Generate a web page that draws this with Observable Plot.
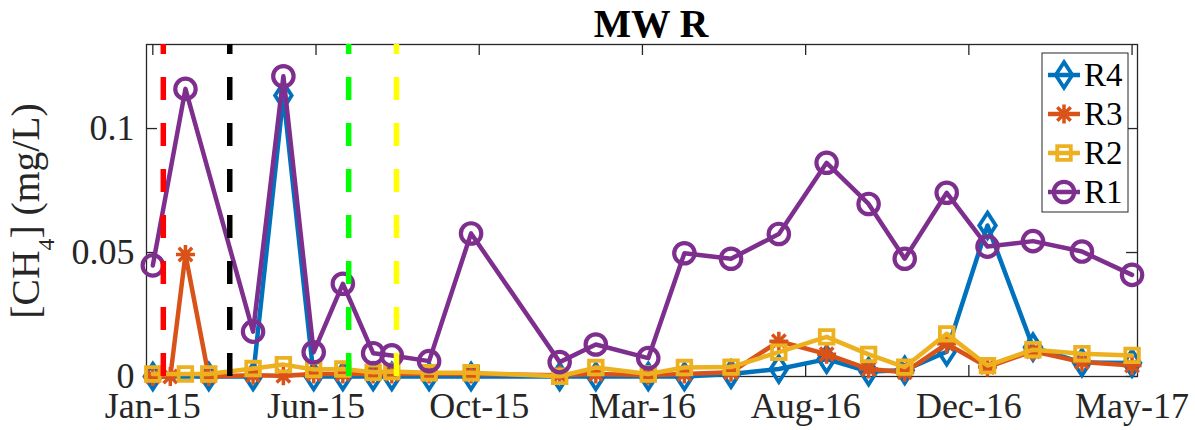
<!DOCTYPE html>
<html>
<head>
<meta charset="utf-8">
<script src="https://cdn.jsdelivr.net/npm/d3@7"></script>
<script src="https://cdn.jsdelivr.net/npm/@observablehq/plot@0.6"></script>
<style>
  html, body { margin: 0; padding: 0; background: #fff; }
  #chart { width: 1195px; height: 430px; position: relative; font-family: "Liberation Serif", serif; }
  #chart svg text, #chart svg tspan { font-family: "Liberation Serif", serif !important; }
</style>
</head>
<body>
<div id="chart"></div>
<script>
// ---- data ----
const dates = ["2015-01-21","2015-02-05","2015-02-18","2015-03-10","2015-04-17","2015-05-13","2015-06-08","2015-07-03","2015-07-29","2015-08-14","2015-09-15","2015-10-21","2016-01-05","2016-02-05","2016-03-21","2016-04-21","2016-05-31","2016-07-11","2016-08-21","2016-09-26","2016-10-27","2016-12-02","2017-01-06","2017-02-14","2017-03-28","2017-05-10"];
const R1 = [0.0448, null, 0.116, null, 0.0181, 0.1211, 0.0098, 0.0374, 0.0094, 0.0085, 0.0062, 0.0577, 0.0058, 0.0129, 0.0074, 0.0497, 0.0475, 0.0575, 0.0862, 0.0696, 0.0475, 0.0741, 0.0524, 0.0546, 0.0504, 0.0410];
const R2 = [0.001, null, 0.001, 0.001, 0.0032, 0.0048, 0.0028, 0.003, 0.0017, 0.002, 0.0015, 0.0015, 0.0001, 0.0036, 0.001, 0.0036, 0.0038, 0.0098, 0.016, 0.0089, 0.0038, 0.0172, 0.0044, 0.0108, 0.0092, 0.0085];
const R3 = [0, 0, 0.0492, 0, 0.0005, 0.0003, 0.001, 0.001, 0.001, 0.001, 0.001, 0.001, 0.0005, 0.001, 0.0005, 0.001, 0.0017, 0.0142, 0.009, 0.003, 0.0017, 0.0132, 0.0038, 0.0102, 0.0058, 0.0044];
const R4 = [0, null, null, 0, 0, 0.1133, 0, 0, 0, 0, 0, 0, 0, 0, 0, 0, 0.001, 0.003, 0.007, 0.002, 0.0025, 0.010, 0.0609, 0.0118, 0.0056, 0.0054];
const seriesNames = ["R4", "R3", "R2", "R1"];
const seriesColors = ["#0072BD", "#D95319", "#EDB120", "#7E2F8E"];
const eventDates = ["2015-01-30", "2015-03-28", "2015-07-08", "2015-08-18"];
const eventColors = ["#FF0000", "#000000", "#00FF00", "#FFFF00"];
const xTickDates = ["2015-01-21","2015-06-10","2015-10-28","2016-03-16","2016-08-03","2016-12-21","2017-05-10"];
const yTicks = [0, 0.05, 0.1];
const xDomainDates = ["2015-01-15T14:00Z", "2017-05-14T16:00Z"];
const yDomain = [0, 0.1339];

const FONT = "Liberation Serif";

// ---- symbols ----
const circleSym = d3.symbolCircle;
const diamondSym = {draw(ctx, size) { const r = Math.sqrt(size / Math.PI), h = r * 1.55;
  ctx.moveTo(0, -h); ctx.lineTo(r, 0); ctx.lineTo(0, h); ctx.lineTo(-r, 0); ctx.closePath(); }};
const squareSym = {draw(ctx, size) { const r = Math.sqrt(size / Math.PI);
  ctx.moveTo(-r, -r); ctx.lineTo(r, -r); ctx.lineTo(r, r); ctx.lineTo(-r, r); ctx.closePath(); }};
const asteriskSym = {draw(ctx, size) { const r = Math.sqrt(size / Math.PI), d = r * 0.7071;
  ctx.moveTo(-r, 0); ctx.lineTo(r, 0); ctx.moveTo(0, -r); ctx.lineTo(0, r);
  ctx.moveTo(-d, -d); ctx.lineTo(d, d); ctx.moveTo(-d, d); ctx.lineTo(d, -d); }};
const symStyle = {
  R4: {symbol: diamondSym, r: 8.3, sw: 3.8},
  R3: {symbol: asteriskSym, r: 9.5, sw: 3.5},
  R2: {symbol: squareSym, r: 6.8, sw: 3.8},
  R1: {symbol: circleSym, r: 10.2, sw: 4.2}
};
const values = {R1, R2, R3, R4};

const parse = s => new Date(s);
function rows(name) {
  return dates.map((d, i) => ({date: parse(d), value: values[name][i]})).filter(d => d.value != null);
}

const W = 1195, H = 430, mL = 146, mT = 44, mR = 58, mB = 54;
const plotW = W - mL - mR, plotH = H - mT - mB;
const tickLen = 11;
const axisColor = "#262626";

const marks = [
  Plot.frame({stroke: axisColor, strokeWidth: 1.3}),
  Plot.ruleX(xTickDates.map(parse), {x: d => d, insetTop: plotH - tickLen, stroke: axisColor, strokeWidth: 1.3}),
  Plot.ruleX(xTickDates.map(parse), {x: d => d, insetBottom: plotH - tickLen, stroke: axisColor, strokeWidth: 1.3}),
  Plot.ruleY(yTicks, {y: d => d, insetRight: plotW - tickLen, stroke: axisColor, strokeWidth: 1.3}),
  Plot.ruleY(yTicks, {y: d => d, insetLeft: plotW - tickLen, stroke: axisColor, strokeWidth: 1.3}),
  Plot.axisX({ticks: xTickDates.map(parse), tickFormat: d3.utcFormat("%b-%y"), tickSize: 0, tickPadding: 16, fontSize: 36, fontFamily: FONT, label: null, fill: axisColor}),
  Plot.axisY({ticks: yTicks, tickFormat: d => String(d), tickSize: 0, tickPadding: 12, fontSize: 36, fontFamily: FONT, label: null, fill: axisColor})
];
seriesNames.forEach((name, k) => {
  const data = rows(name);
  const st = symStyle[name];
  marks.push(Plot.line(data, {x: "date", y: "value", stroke: seriesColors[k], strokeWidth: 4.5, strokeLinejoin: "round"}));
  marks.push(Plot.dot(data, {x: "date", y: "value", symbol: st.symbol, r: st.r, stroke: seriesColors[k], strokeWidth: st.sw, fill: "none"}));
});
eventDates.forEach((d, k) => {
  marks.push(Plot.ruleX([parse(d)], {x: v => v, y1: () => yDomain[0], y2: () => yDomain[1], stroke: eventColors[k], strokeWidth: 5.5, strokeDasharray: "23,23"}));
});

const svgNode = Plot.plot({
  width: W, height: H,
  marginLeft: mL, marginTop: mT, marginRight: mR, marginBottom: mB,
  style: {color: axisColor, background: "#fff", overflow: "visible"},
  x: {type: "utc", domain: xDomainDates.map(parse)},
  y: {domain: yDomain},
  marks
});
svgNode.setAttribute("font-family", FONT);
document.getElementById("chart").appendChild(svgNode);

// ---- title, y label, legend ----
const svg = d3.select(svgNode);
svg.append("text")
  .attr("x", 651).attr("y", 37)
  .attr("text-anchor", "middle")
  .attr("font-size", 39.6).attr("font-weight", "bold").attr("fill", "#000")
  .text("MW R");

const yl = svg.append("text")
  .attr("transform", "translate(39,211) rotate(-90)")
  .attr("text-anchor", "middle")
  .attr("font-size", 39.6).attr("fill", axisColor);
yl.append("tspan").text("[CH");
yl.append("tspan").attr("font-size", 24).attr("dy", 15).text("4");
yl.append("tspan").attr("dy", -15).text("] (mg/L)");

const lg = svg.append("g");
lg.append("rect").attr("x", 1042).attr("y", 53).attr("width", 86).attr("height", 159)
  .attr("fill", "#fff").attr("stroke", axisColor).attr("stroke-width", 1);
["R4", "R3", "R2", "R1"].forEach((name, i) => {
  const k = seriesNames.indexOf(name);
  const cy = 75 + i * 39;
  const st = symStyle[name];
  lg.append("line").attr("x1", 1048).attr("x2", 1080).attr("y1", cy).attr("y2", cy)
    .attr("stroke", seriesColors[k]).attr("stroke-width", 4.5);
  lg.append("path").attr("transform", `translate(1064,${cy})`)
    .attr("d", d3.symbol(st.symbol, st.r * st.r * Math.PI)())
    .attr("fill", "none").attr("stroke", seriesColors[k]).attr("stroke-width", st.sw);
  lg.append("text").attr("x", 1084).attr("y", cy + 11)
    .attr("text-anchor", "start")
    .attr("font-size", 33).attr("fill", "#000").text(name);
});

// force the serif face on every text node
svgNode.querySelectorAll("g, text, tspan").forEach(el => {
  if (el.hasAttribute("font-family")) el.setAttribute("font-family", FONT);
});
svgNode.querySelectorAll("text, tspan").forEach(el => {
  el.setAttribute("font-family", FONT);
  el.style.setProperty("font-family", "'Liberation Serif', serif", "important");
});
</script>
</body>
</html>
